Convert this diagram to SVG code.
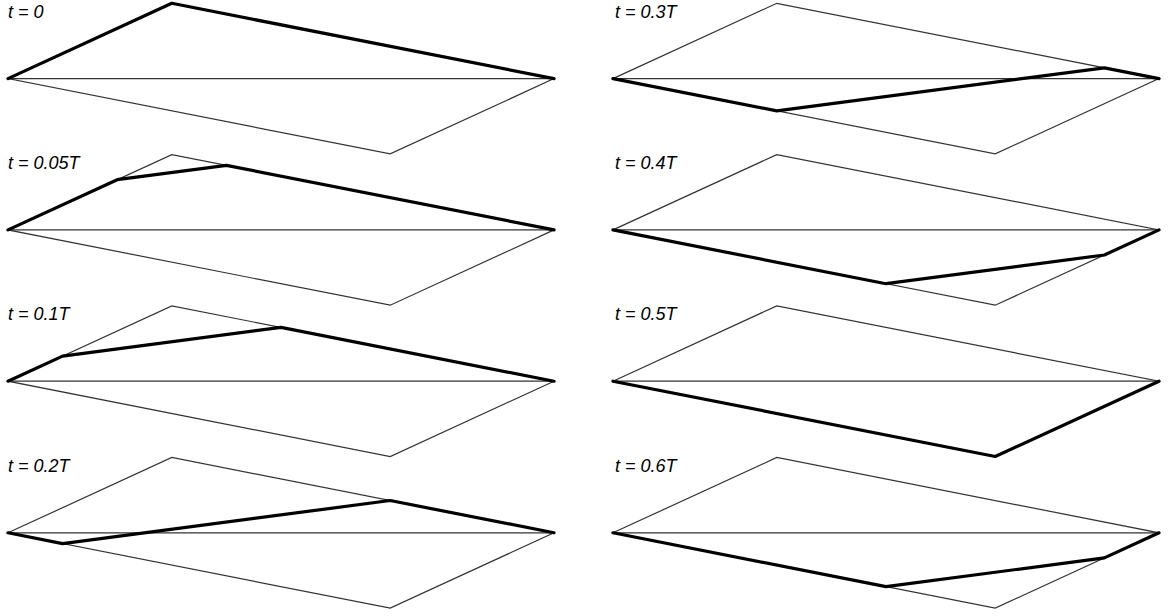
<svg xmlns="http://www.w3.org/2000/svg" width="1171" height="616" viewBox="0 0 1171 616">
<style>
.frame{fill:none;stroke:#333;stroke-width:1.2}
.axis{fill:none;stroke:#333;stroke-width:1.3}
.wave{fill:none;stroke:#000;stroke-width:3.2;stroke-linejoin:round;stroke-linecap:round}
.lbl{font-family:"Liberation Sans",Arial,sans-serif;font-style:italic;font-size:18px;fill:#000}
</style>
<defs>
<g id="base">
<path class="frame" d="M0,0 L163.8,-75.3 L546,0 L382.2,75.3 Z"/>
<path class="axis" d="M0,0 H546"/>
</g>
</defs>
<rect width="1171" height="616" fill="#fff"/>
<g id="panel-t0" transform="translate(8,78.6)">
<use href="#base"/>
<text class="lbl" x="0" y="-61">t = 0</text>
<polyline class="wave" points="0,0 163.8,-75.3 546,0"/>
</g>
<g id="panel-t005" transform="translate(8,229.9)">
<use href="#base"/>
<text class="lbl" x="0" y="-61">t = 0.05T</text>
<polyline class="wave" points="0,0 109.2,-50.2 218.4,-64.5 546,0"/>
</g>
<g id="panel-t01" transform="translate(8,381.2)">
<use href="#base"/>
<text class="lbl" x="0" y="-61">t = 0.1T</text>
<polyline class="wave" points="0,0 54.6,-25.1 273,-53.8 546,0"/>
</g>
<g id="panel-t02" transform="translate(8,532.8)">
<use href="#base"/>
<text class="lbl" x="0" y="-61">t = 0.2T</text>
<polyline class="wave" points="0,0 54.6,10.76 382.2,-32.27 546,0"/>
</g>
<g id="panel-t03" transform="translate(613,78.6)">
<use href="#base"/>
<text class="lbl" x="2" y="-61">t = 0.3T</text>
<polyline class="wave" points="0,0 163.8,32.27 491.4,-10.76 546,0"/>
</g>
<g id="panel-t04" transform="translate(613,229.9)">
<use href="#base"/>
<text class="lbl" x="2" y="-61">t = 0.4T</text>
<polyline class="wave" points="0,0 273,53.8 491.4,25.1 546,0"/>
</g>
<g id="panel-t05" transform="translate(613,381.2)">
<use href="#base"/>
<text class="lbl" x="2" y="-61">t = 0.5T</text>
<polyline class="wave" points="0,0 382.2,75.3 546,0"/>
</g>
<g id="panel-t06" transform="translate(613,532.8)">
<use href="#base"/>
<text class="lbl" x="2" y="-61">t = 0.6T</text>
<polyline class="wave" points="0,0 273,53.8 491.4,25.1 546,0"/>
</g>
<g id="connectors"></g>
</svg>
